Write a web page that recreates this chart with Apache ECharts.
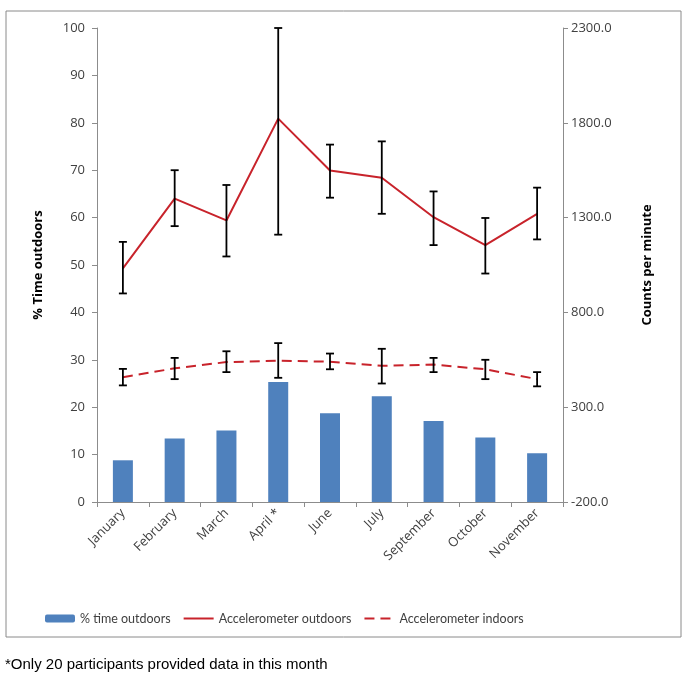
<!DOCTYPE html>
<html>
<head>
<meta charset="utf-8">
<script src="https://cdn.jsdelivr.net/npm/echarts@6/dist/echarts.min.js"></script>
<style>html,body{margin:0;padding:0;background:#fff;}#c{width:685px;height:690px;}</style>
</head>
<body>
<div id="c"></div>
<script>
const categories = ['January','February','March','April *','June','July','September','October','November'];
const pctOutdoors = [8.8, 13.4, 15.1, 25.3, 18.7, 22.3, 17.1, 13.6, 10.3];
const accOutdoors = [1032, 1400, 1285, 1822, 1548, 1510, 1302, 1155, 1320];
const accOutdoorsLow = [900, 1255, 1095, 1210, 1405, 1320, 1155, 1005, 1185];
const accOutdoorsHigh = [1172, 1550, 1472, 2300, 1685, 1702, 1438, 1298, 1458];
const accIndoors = [458, 505, 538, 545, 540, 518, 525, 500, 448];
const accIndoorsLow = [415, 448, 485, 455, 500, 425, 485, 448, 410];
const accIndoorsHigh = [502, 560, 595, 638, 583, 608, 560, 550, 485];
const leftTicks = [0,10,20,30,40,50,60,70,80,90,100];
const rightTicks = [-200, 300, 800, 1300, 1800, 2300];

const chart = echarts.init(document.getElementById('c'));
const font = "'Open Sans', 'Noto Sans', sans-serif";
const legendFont = "Lato, 'Open Sans', sans-serif";
const axisColor = '#8c8c8c';
const textColor = '#404040';
const red = '#c8232b';

function errData(lo, hi){ return lo.map((v,i)=>[i, v, hi[i]]); }
function errRender(params, api){
  const x = api.value(0);
  const p1 = api.coord([x, api.value(1)]);
  const p2 = api.coord([x, api.value(2)]);
  const w = 4;
  const st = {stroke:'#000', lineWidth:1.8};
  return {type:'group', children:[
    {type:'line', shape:{x1:p1[0], y1:p1[1], x2:p2[0], y2:p2[1]}, style:st},
    {type:'line', shape:{x1:p1[0]-w, y1:p1[1], x2:p1[0]+w, y2:p1[1]}, style:st},
    {type:'line', shape:{x1:p2[0]-w, y1:p2[1], x2:p2[0]+w, y2:p2[1]}, style:st}
  ]};
}

chart.setOption({
  animation:false,
  textStyle:{fontFamily:font},
  grid:{left:97, right:122, top:28, bottom:188, containLabel:false},
  legend:{
    left:40, top:607, itemWidth:30, itemHeight:8, itemGap:12,
    textStyle:{fontFamily:legendFont, fontSize:12.5, color:textColor},
    data:[
      {name:'% time outdoors'},
      {name:'Accelerometer outdoors', itemStyle:{opacity:0}},
      {name:'Accelerometer indoors', itemStyle:{opacity:0}}
    ]
  },
  graphic:[
    {type:'rect', shape:{x:6, y:11, width:675, height:626}, style:{fill:'none', stroke:'#8a8a8a', lineWidth:1}, silent:true},
    {type:'text', left:5, top:657, style:{text:'*Only 20 participants provided data in this month', font:"15px 'Liberation Sans', Arial, sans-serif", fill:'#000'}}
  ],
  xAxis:{
    type:'category', data:categories,
    axisLine:{lineStyle:{color:axisColor}},
    axisTick:{show:true, length:5, lineStyle:{color:axisColor}},
    axisLabel:{rotate:45, fontSize:13, color:textColor, fontFamily:font, margin:9, interval:0}
  },
  yAxis:[
    {type:'value', min:0, max:100, interval:10, position:'left',
     name:'% Time outdoors', nameLocation:'middle', nameGap:52, nameRotate:90,
     nameTextStyle:{fontWeight:'bold', fontSize:13, color:'#000', fontFamily:font},
     axisLine:{show:true, lineStyle:{color:axisColor}},
     axisTick:{show:true, length:5, lineStyle:{color:axisColor}},
     splitLine:{show:false},
     axisLabel:{fontSize:13, color:textColor, margin:12, fontFamily:font}
    },
    {type:'value', min:-200, max:2300, position:'right',
     name:'Counts per minute', nameLocation:'middle', nameGap:78, nameRotate:90,
     nameTextStyle:{fontWeight:'bold', fontSize:13, color:'#000', fontFamily:font},
     axisLine:{show:true, lineStyle:{color:axisColor}},
     axisTick:{show:true, length:5, customValues:rightTicks, lineStyle:{color:axisColor}},
     splitLine:{show:false},
     axisLabel:{customValues:rightTicks, formatter:v=>Number(v).toFixed(1), fontSize:13, color:textColor, margin:8, fontFamily:font}
    }
  ],
  series:[
    {name:'% time outdoors', type:'bar', yAxisIndex:0, data:pctOutdoors, barWidth:20, itemStyle:{color:'#4f81bd'}},
    {name:'Accelerometer outdoors', type:'line', yAxisIndex:1, data:accOutdoors, symbol:'none', lineStyle:{color:red, width:2}, itemStyle:{color:red}, z:3},
    {name:'Accelerometer indoors', type:'line', yAxisIndex:1, data:accIndoors, symbol:'none', lineStyle:{color:red, width:2, type:[10,6]}, itemStyle:{color:red}, z:3},
    {type:'custom', yAxisIndex:1, data:errData(accOutdoorsLow, accOutdoorsHigh), renderItem:errRender, z:4, silent:true},
    {type:'custom', yAxisIndex:1, data:errData(accIndoorsLow, accIndoorsHigh), renderItem:errRender, z:4, silent:true}
  ]
});
</script>
</body>
</html>
